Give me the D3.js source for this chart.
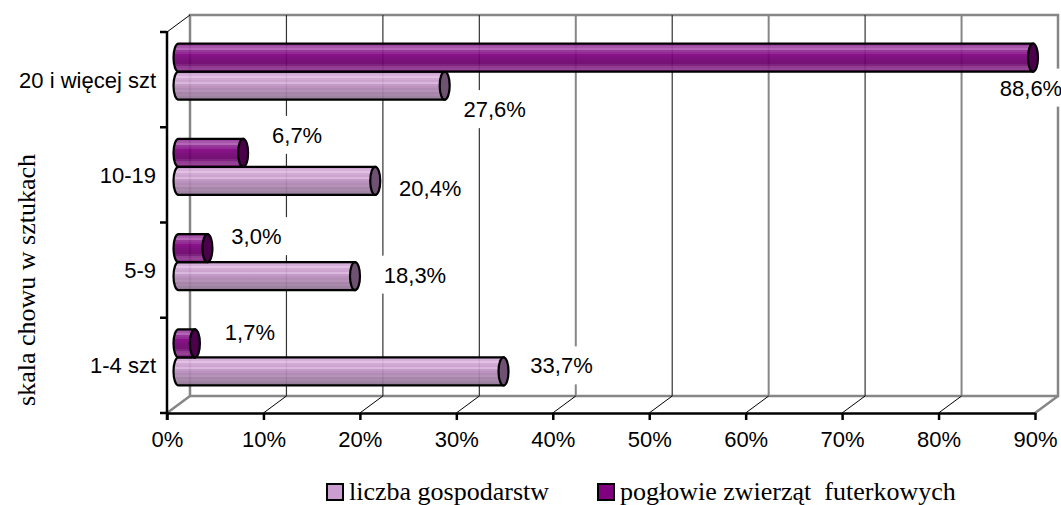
<!DOCTYPE html>
<html lang="pl">
<head>
    <meta charset="UTF-8">
    <title>skala chowu</title>
    <style>
        body { margin: 0; background: #fff; }
        svg { display: block; }
        text { fill: #000; }
        .sans { font-family: "Liberation Sans", Arial, sans-serif; font-size: 22px; }
        .serif { font-family: "Liberation Serif", "Times New Roman", serif; font-size: 26px; }
    </style>
    <script src="https://d3js.org/d3.v7.min.js"></script>
</head>
<body>
<div id="chart"></div>
<script>
    var categories = ["1-4 szt", "5-9", "10-19", "20 i więcej szt"];
    var seriesNames = ["liczba gospodarstw", "pogłowie zwierząt  futerkowych"];
    var farms = [33.7, 18.3, 20.4, 27.6];
    var animals = [1.7, 3.0, 6.7, 88.6];
    var xTicks = [0, 10, 20, 30, 40, 50, 60, 70, 80, 90];
    var yTitle = "skala chowu w sztukach";

    // the labels were moved by hand in the original, so they get their own nudges
    var farmsNudge = [[58, -6], [60, -1.5], [55, 7.5], [50, 23.5]];
    var animalsNudge = [[55, -11], [49, -12], [54, -18], [-2, 30]];

    var width = 1061, height = 505;
    var plotLeft = 167, plotRight = 1035, plotTop = 32, plotBottom = 413;
    var depthX = 23, depthY = 17;

    var svg = d3.select("#chart").append("svg")
        .attr("width", width)
        .attr("height", height);

    var x = d3.scaleLinear().domain([0, 90]).range([plotLeft, plotRight]);
    var y = d3.scaleBand().domain(categories).range([plotBottom, plotTop]);

    var gray = "#868686";
    var gridDark = [true, true, true, false, true, false, true, false, false];

    // stripes of the cylinders
    function stripes(id, colors) {
        var g = svg.append("defs").append("linearGradient")
            .attr("id", id)
            .attr("x1", 0).attr("y1", 0).attr("x2", 0).attr("y2", 1);
        colors.forEach(function(c, i) {
            g.append("stop").attr("offset", i / colors.length).attr("stop-color", c);
            g.append("stop").attr("offset", (i + 1) / colors.length).attr("stop-color", c);
        });
    }
    stripes("lightBar", ["#c79ccb", "#d4aad8", "#e0bce2", "#cfa5d2", "#c89dcb", "#d8b2da", "#c093c3", "#b68ab9",
        "#ac84af", "#b08ab3", "#a07ca3", "#a280a5", "#987a9c", "#8f7293"]);
    stripes("darkBar", ["#97379a", "#a04aa3", "#b05ab2", "#8f2a92", "#8a1c8c", "#800080", "#790079", "#720072",
        "#6e006e", "#6c006c", "#751475", "#8a2c8a", "#8d348d", "#7d1a7d"]);

    // back walls and floor
    var walls = svg.append("g");
    walls.append("path")
        .attr("d", "M" + (plotLeft + depthX) + "," + (plotBottom - depthY)
            + "V" + (plotTop - depthY) + "H" + (plotRight + depthX) + "V" + (plotBottom - depthY) + "Z")
        .attr("fill", "none")
        .attr("stroke", gray)
        .attr("stroke-width", 2.5);
    walls.append("path")
        .attr("d", "M" + plotLeft + "," + plotBottom + "L" + (plotLeft + depthX) + "," + (plotBottom - depthY)
            + "M" + plotRight + "," + plotBottom + "L" + (plotRight + depthX) + "," + (plotBottom - depthY))
        .attr("fill", "none")
        .attr("stroke", gray)
        .attr("stroke-width", 2.5);
    walls.append("line")
        .attr("x1", plotLeft).attr("y1", plotTop)
        .attr("x2", plotLeft + depthX).attr("y2", plotTop - depthY)
        .attr("stroke", "#000");

    // grid on the back wall, with the oblique piece on the floor
    xTicks.slice(1, -1).forEach(function(t, i) {
        var dark = gridDark[i];
        walls.append("line")
            .attr("x1", x(t) + depthX).attr("x2", x(t) + depthX)
            .attr("y1", plotTop - depthY).attr("y2", plotBottom - depthY)
            .attr("stroke", dark ? "#333" : gray)
            .attr("stroke-width", dark ? 1.2 : 2);
        walls.append("line")
            .attr("x1", x(t)).attr("y1", plotBottom)
            .attr("x2", x(t) + depthX).attr("y2", plotBottom - depthY)
            .attr("stroke", "#000");
    });

    // value labels sit on white boxes which hide the grid
    function labelPos(v, i, nudge, off) {
        return {
            x: barEnd(v) + nudge[i][0],
            y: y(categories[i]) + y.bandwidth() / 2 + off + nudge[i][1]
        };
    }
    function barEnd(v) { return x(v) + depthX / 2; }

    var barH = 28;
    var offFarms = barH / 2 - 8.5 + 0.5, offAnimals = -barH / 2 - 8.5 + 0.5;
    var labels = [];
    farms.forEach(function(v, i) { labels.push({ v: v, p: labelPos(v, i, farmsNudge, offFarms) }); });
    animals.forEach(function(v, i) { labels.push({ v: v, p: labelPos(v, i, animalsNudge, offAnimals) }); });

    svg.append("g").selectAll("rect")
        .data(labels)
        .enter().append("rect")
        .attr("x", function(d) { return d.p.x - 34; })
        .attr("y", function(d) { return d.p.y - 19; })
        .attr("width", 68)
        .attr("height", 38)
        .attr("fill", "#fff");

    // cylinders
    function drawBars(values, off, fill, capFill) {
        var rx = 5, ry = barH / 2;
        var g = svg.append("g").selectAll("g")
            .data(values)
            .enter().append("g");
        g.append("path")
            .attr("d", function(d, i) {
                var cy = y(categories[i]) + y.bandwidth() / 2 + off;
                var x0 = x(0) + depthX / 2, x1 = barEnd(d);
                return "M" + x1 + "," + (cy - ry) + "H" + x0
                    + "A" + rx + "," + ry + " 0 0 0 " + x0 + "," + (cy + ry)
                    + "H" + x1 + "Z";
            })
            .attr("fill", "url(#" + fill + ")")
            .attr("fill-opacity", 0.93)
            .attr("stroke", "#000")
            .attr("stroke-width", 2.2);
        g.append("ellipse")
            .attr("cx", function(d) { return barEnd(d); })
            .attr("cy", function(d, i) { return y(categories[i]) + y.bandwidth() / 2 + off; })
            .attr("rx", rx)
            .attr("ry", ry)
            .attr("fill", capFill)
            .attr("stroke", "#000")
            .attr("stroke-width", 2.2);
    }
    drawBars(farms, offFarms, "lightBar", "#6f5172");
    drawBars(animals, offAnimals, "darkBar", "#4c004c");

    // value labels
    svg.append("g").selectAll("text")
        .data(labels)
        .enter().append("text")
        .attr("class", "sans")
        .attr("x", function(d) { return d.p.x; })
        .attr("y", function(d) { return d.p.y + 8; })
        .attr("text-anchor", "middle")
        .text(function(d) { return d.v.toFixed(1).replace(".", ",") + "%"; });

    // axes
    var xAxis = svg.append("g")
        .attr("transform", "translate(0," + plotBottom + ")")
        .call(d3.axisBottom(x).tickValues(xTicks).tickSize(7).tickSizeOuter(0)
            .tickFormat(function(d) { return d + "%"; }));
    xAxis.attr("font-family", null).attr("font-size", null);
    xAxis.select(".domain").attr("stroke", "#000").attr("stroke-width", 2.5);
    xAxis.selectAll(".tick line").attr("stroke", "#000").attr("stroke-width", 2.5);
    xAxis.selectAll(".tick text")
        .attr("class", "sans")
        .attr("dy", null)
        .attr("y", 34);

    var yAxis = svg.append("g")
        .attr("transform", "translate(" + plotLeft + ",0)")
        .call(d3.axisLeft(y).tickSize(0).tickPadding(11));
    yAxis.attr("font-family", null).attr("font-size", null);
    yAxis.select(".domain").remove();
    yAxis.selectAll(".tick text")
        .attr("class", "sans")
        .attr("dy", null)
        .attr("y", 8);

    // the category axis ticks fall between the bands
    var edges = [y(categories[0]) + y.bandwidth()].concat(categories.map(function(c) { return y(c); }));
    svg.append("line")
        .attr("x1", plotLeft).attr("x2", plotLeft)
        .attr("y1", plotTop - 1).attr("y2", plotBottom + 7)
        .attr("stroke", "#000").attr("stroke-width", 2.5);
    svg.append("g").selectAll("line")
        .data(edges)
        .enter().append("line")
        .attr("x1", plotLeft - 7).attr("x2", plotLeft)
        .attr("y1", function(d) { return d; })
        .attr("y2", function(d) { return d; })
        .attr("stroke", "#000").attr("stroke-width", 2.5);

    svg.append("text")
        .attr("class", "serif")
        .attr("transform", "translate(35,280) rotate(-90)")
        .attr("text-anchor", "middle")
        .text(yTitle);

    // legend
    var legendX = [326, 597];
    var legendFill = ["#cb9dd0", "#800080"];
    var legend = svg.append("g").selectAll("g")
        .data(seriesNames)
        .enter().append("g")
        .attr("transform", function(d, i) { return "translate(" + legendX[i] + ",483)"; });
    legend.append("rect")
        .attr("x", 1).attr("y", 1)
        .attr("width", 16).attr("height", 16)
        .attr("fill", function(d, i) { return legendFill[i]; })
        .attr("stroke", "#000")
        .attr("stroke-width", 2);
    legend.append("text")
        .attr("class", "serif")
        .attr("x", 23)
        .attr("y", 17)
        .style("white-space", "pre")
        .text(function(d) { return d; });
</script>
</body>
</html>
